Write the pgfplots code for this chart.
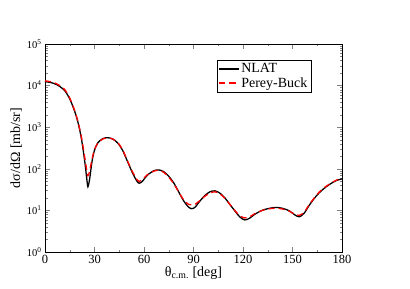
\documentclass[border=0pt]{standalone}
\usepackage{pgfplots}
\pgfplotsset{compat=1.18}
\usepackage{fontspec}
\setmainfont{Liberation Serif}
\begin{document}
\begin{tikzpicture}
\begin{axis}[
  scale only axis, width=297pt, height=208pt,
  ymode=log, xmin=0, xmax=180, ymin=1, ymax=1e5,
  xtick={0,30,...,180}, minor xtick={15,45,...,165},
  ytick={1,10,100,1000,10000,100000},
  yticklabels={10\textsuperscript{0},10\textsuperscript{1},10\textsuperscript{2},10\textsuperscript{3},10\textsuperscript{4},10\textsuperscript{5}},
  /pgf/number format/assume math mode=true,
  xticklabel style={font=\fontsize{12.5}{12.5}\selectfont},
  yticklabel style={font=\fontsize{10.5}{10.5}\selectfont},
  label style={font=\fontsize{14}{14}\selectfont},
  tick align=inside, major tick length=5pt, minor tick length=2.5pt,
  axis line style={line width=0.9pt},
  xlabel={θ\textsubscript{c.m.} [deg]},
  ylabel={dσ/dΩ [mb/sr]},
  xlabel style={yshift=4pt},
  ylabel style={yshift=-2pt},
  legend style={at={(0.896,0.923)}, anchor=north east, font=\fontsize{14}{14}\selectfont, draw=black, inner sep=1.5pt, row sep=-1pt},
  legend image post style={xscale=1.15},
  legend cell align=left,
]
\addplot[black, line width=1.3pt, smooth] coordinates {
(0,12400)(3,12000)(6,11000)(9,9500)(12,7500)(15,4800)(18,2400)(20,1300)(22,550)(24,160)(25.5,50)(26,37)(27,55)(28.5,150)(30,280)(32,420)(35,530)(38,560)(41,520)(44,420)(47,280)(50,150)(53,80)(55.5,52)(57,45)(59,50)(62,70)(66,90)(69,94)(72,85)(75,66)(78,46)(81,28)(84,17)(87,12)(89,11)(91,12)(94,17)(97,23)(100,28)(103,29.5)(106,26)(109,20)(112,14)(115,9.8)(118,7)(121,5.9)(124,6.5)(127,8)(131,9.8)(135,11)(140,11.8)(144,11.2)(148,9.8)(151,8)(154,7)(157,8.5)(160,13)(163,19)(166,26)(170,36)(174,46)(177,53)(180,57)
};
\addlegendentry{NLAT}
\addplot[red, line width=1.3pt, dash pattern=on 6pt off 4pt, smooth] coordinates {
(0,13000)(3,12500)(6,11500)(9,10000)(12,8000)(15,5000)(18,2500)(20,1350)(22,600)(24,200)(25.5,80)(26,68)(27,85)(28.5,170)(30,290)(32,410)(35,520)(38,550)(41,520)(44,430)(47,290)(50,155)(53,85)(55.5,57)(57,50)(59,55)(62,72)(66,88)(69,92)(72,82)(75,63)(78,44)(81,28)(84,18)(87,14)(89,13.5)(91,14)(94,17.5)(97,22)(100,26)(103,28)(106,25)(109,19.5)(112,14)(115,10)(118,7.5)(121,6.6)(124,7)(127,8.3)(131,9.8)(135,10.8)(140,11.3)(144,10.8)(148,9.6)(151,8.2)(154,7.6)(157,9)(160,13.5)(163,19.5)(166,27)(170,37)(174,47)(177,54)(180,58)
};
\addlegendentry{Perey-Buck}
\end{axis}
\path ([xshift=-45pt,yshift=-37pt]current axis.south west) rectangle ([xshift=68pt,yshift=44pt]current axis.north east);
\end{tikzpicture}
\end{document}
